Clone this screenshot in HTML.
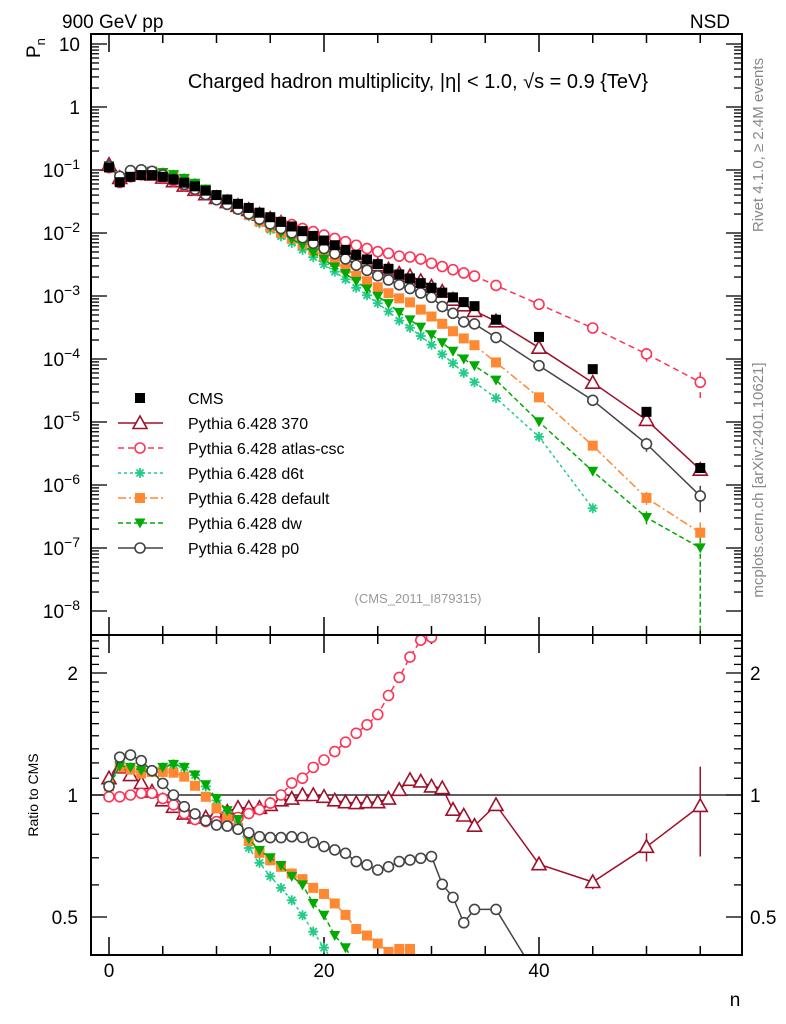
<!DOCTYPE html>
<html><head><meta charset="utf-8"><style>
html,body{margin:0;padding:0;background:#fff;width:786px;height:1024px;overflow:hidden}
svg{display:block;font-family:"Liberation Sans",Arial,sans-serif}
</style></head><body>
<svg id="chart" width="786" height="1024" viewBox="0 0 786 1024">
<defs>
<clipPath id="cm"><rect x="91" y="34" width="651" height="601"/></clipPath>
<clipPath id="cr"><rect x="91" y="635" width="651" height="320"/></clipPath>
</defs>
<text x="62" y="28" font-size="19">900 GeV pp</text>
<text x="730" y="28" font-size="19" text-anchor="end">NSD</text>
<text x="418" y="88" font-size="20" text-anchor="middle">Charged hadron multiplicity, |η| &lt; 1.0, √s = 0.9 {TeV}</text>
<text transform="translate(40,58) rotate(-90)" font-size="19">P<tspan font-size="13" dy="5">n</tspan></text>
<text transform="translate(38,795) rotate(-90)" font-size="14" text-anchor="middle">Ratio to CMS</text>
<text x="735" y="1006" font-size="19" text-anchor="middle">n</text>
<text transform="translate(763,145) rotate(-90)" font-size="15" fill="#888" text-anchor="middle">Rivet 4.1.0, ≥ 2.4M events</text>
<text transform="translate(763,480) rotate(-90)" font-size="15" fill="#888" text-anchor="middle">mcplots.cern.ch [arXiv:2401.10621]</text>
<text x="418" y="603" font-size="13" fill="#999" text-anchor="middle">(CMS_2011_I879315)</text>
<g id="axes"></g>
<g id="mainMarks" clip-path="url(#cm)"></g>
<g id="ratioMarks" clip-path="url(#cr)"></g>
<g id="legend"></g>
<rect x="91" y="34" width="651" height="601" fill="none" stroke="#000" stroke-width="2"/>
<rect x="91" y="635" width="651" height="320" fill="none" stroke="#000" stroke-width="2"/>
</svg>
<script>
const ns=[0,1,2,3,4,5,6,7,8,9,10,11,12,13,14,15,16,17,18,19,20,21,22,23,24,25,26,27,28,29,30,31,32,33,34,36,40,45,50,55];
const cms=[0.11,0.064,0.078,0.083,0.083,0.078,0.071,0.063,0.055,0.047,0.040,0.034,0.029,0.025,0.021,0.0178,0.015,0.0127,0.0107,0.0090,0.0076,0.0064,0.0054,0.0045,0.0038,0.0032,0.0027,0.0022,0.0019,0.0016,0.00135,0.00113,0.00095,0.0008,0.00069,0.00042,0.000224,0.000069,0.0000145,0.00000186];
const r370=[1.10,1.17,1.12,1.07,1.02,0.97,0.935,0.90,0.88,0.88,0.90,0.91,0.93,0.93,0.93,0.945,0.97,0.98,1.0,1.0,0.99,0.97,0.96,0.955,0.96,0.96,0.98,1.03,1.09,1.08,1.05,1.04,0.92,0.89,0.84,0.945,0.675,0.61,0.745,0.94];
const rAtlas=[0.99,0.99,1.0,1.01,1.01,0.98,0.945,0.90,0.87,0.86,0.86,0.87,0.88,0.90,0.92,0.955,1.0,1.07,1.1,1.17,1.22,1.28,1.35,1.42,1.49,1.58,1.76,1.95,2.19,2.41,2.45,2.6,2.75,2.9,3.0,3.5,3.3,4.5,8.3,23];
const rD6t=[1.05,1.18,1.17,1.16,1.15,1.17,1.19,1.17,1.12,1.05,0.97,0.91,0.84,0.74,0.68,0.63,0.59,0.55,0.505,0.46,0.42,0.38,0.34,0.30,0.27,0.24,0.21,0.185,0.165,0.145,0.125,0.105,0.09,0.075,0.062,0.057,0.026,0.0062,null,null];
const rDefault=[1.05,1.17,1.155,1.13,1.14,1.14,1.135,1.11,1.054,0.99,0.927,0.876,0.83,0.77,0.72,0.69,0.665,0.64,0.62,0.59,0.57,0.54,0.506,0.467,0.45,0.43,0.41,0.417,0.417,0.38,0.35,0.32,0.29,0.265,0.24,0.21,0.11,0.061,0.043,0.094];
const rDw=[1.05,1.18,1.17,1.15,1.14,1.17,1.19,1.17,1.12,1.06,0.98,0.915,0.87,0.78,0.73,0.70,0.67,0.63,0.60,0.54,0.505,0.45,0.42,0.38,0.34,0.31,0.28,0.25,0.22,0.20,0.18,0.16,0.14,0.125,0.113,0.11,0.045,0.024,0.021,0.054];
const rP0=[1.05,1.24,1.255,1.215,1.148,1.068,1.0,0.936,0.898,0.864,0.843,0.838,0.823,0.807,0.789,0.785,0.785,0.789,0.786,0.764,0.746,0.732,0.718,0.685,0.672,0.653,0.665,0.685,0.691,0.698,0.705,0.602,0.559,0.484,0.522,0.522,0.35,0.32,0.31,0.36];
const errTailN=[45,50,55];
const err370=[0.04,0.08,0.25];
const errModel=[0.3,0.5,0.9];
const xTicks=[0,20,40];
const mainDecades=[1,0,-1,-2,-3,-4,-5,-6,-7,-8];
const ratioTicks=[0.5,1,2];

const NS='http://www.w3.org/2000/svg';
const X=n=>109+n*10.75;
const Ym=v=>170-63*(Math.log10(v)+1);
const Yr=r=>795-122*Math.log2(r);
function mk(tag,at,parent){const e=document.createElementNS(NS,tag);for(const k in at)e.setAttribute(k,at[k]);parent.appendChild(e);return e;}
const axes=document.getElementById('axes');
const gm=document.getElementById('mainMarks');
const gr=document.getElementById('ratioMarks');
const gl=document.getElementById('legend');

for(let n=0;n<=55;n+=5){
  const maj=xTicks.includes(n);const L=maj?18:9;
  for(const [yb,dir] of [[635,-1],[34,1],[955,-1],[635,1]]){
    const t=mk('line',{x1:X(n),x2:X(n),y1:yb,y2:yb+dir*L,stroke:'#000','stroke-width':1.5},axes);
    
    
  }
}
xTicks.forEach(n=>{const t=mk('text',{x:X(n),y:977,'font-size':19,'text-anchor':'middle'},axes);t.textContent=n;
  
  });
mainDecades.forEach(d=>{
  for(let m=1;m<=9;m++){
    const y=Ym(m*Math.pow(10,d));if(y<34||y>635)continue;
    const L=m===1?16:8;
    mk('line',{x1:91,x2:91+L,y1:y,y2:y,stroke:'#000','stroke-width':1.3},axes);
    const t=mk('line',{x1:742,x2:742-L,y1:y,y2:y,stroke:'#000','stroke-width':1.3},axes);
    
    
  }
  const y=Ym(Math.pow(10,d));
  const t=mk('text',{x:80,y:y+7,'font-size':19,'text-anchor':'end'},axes);
  if(d===1)t.textContent='10';else if(d===0)t.textContent='1';
  else{t.textContent='10';const s=mk('tspan',{'font-size':14,dy:-8},t);s.textContent='−'+(-d);}
  
  
});
for(let r=0.4;r<=2.5;r+=0.1){const y=Yr(r);if(y<636||y>954)continue;
  const maj=[0.5,1,2].some(v=>Math.abs(v-r)<1e-6);const L=maj?16:8;
  mk('line',{x1:91,x2:91+L,y1:y,y2:y,stroke:'#000','stroke-width':1.3},axes);
  mk('line',{x1:742,x2:742-L,y1:y,y2:y,stroke:'#000','stroke-width':1.3},axes);}
ratioTicks.forEach(r=>{for(const [x,a] of [[78,'end'],[750,'start']]){const t=mk('text',{x:x,y:Yr(r)+7,'font-size':19,'text-anchor':a},axes);t.textContent=r;
  
  }});
const one=mk('line',{x1:91,x2:742,y1:Yr(1),y2:Yr(1),stroke:'#000','stroke-width':1.3},axes);



function marker(type,x,y,c,g){
  if(type==='sq')return mk('rect',{x:x-5,y:y-5,width:10,height:10,fill:c},g);
  if(type==='tri')return mk('path',{d:`M${x},${y-7}L${x+7},${y+5.5}L${x-7},${y+5.5}Z`,fill:'#fff',stroke:c,'stroke-width':1.6},g);
  if(type==='circ')return mk('circle',{cx:x,cy:y,r:5,fill:'#fff',stroke:c,'stroke-width':1.6},g);
  if(type==='tdown')return mk('path',{d:`M${x-5.5},${y-4.5}L${x+5.5},${y-4.5}L${x},${y+5.5}Z`,fill:c},g);
  if(type==='star'){let d='';for(let i=0;i<4;i++){const a=i*Math.PI/4;d+=`M${x-5*Math.cos(a)},${y-5*Math.sin(a)}L${x+5*Math.cos(a)},${y+5*Math.sin(a)}`;}
    return mk('path',{d:d,stroke:c,'stroke-width':1.8},g);}
}
const series=[
 {name:'pythia-370',label:'Pythia 6.428 370',r:r370,c:'#a0102a',m:'tri',dash:''},
 {name:'pythia-atlas-csc',label:'Pythia 6.428 atlas-csc',r:rAtlas,c:'#ff3355',m:'circ',dash:'6,4'},
 {name:'pythia-d6t',label:'Pythia 6.428 d6t',r:rD6t,c:'#22cc88',m:'star',dash:'3,3'},
 {name:'pythia-default',label:'Pythia 6.428 default',r:rDefault,c:'#ff8833',m:'sq',dash:'8,3,2,3'},
 {name:'pythia-dw',label:'Pythia 6.428 dw',r:rDw,c:'#00aa00',m:'tdown',dash:'5,3'},
 {name:'pythia-p0',label:'Pythia 6.428 p0',r:rP0,c:'#444444',m:'circ',dash:''}
];
series.forEach(s=>{
  const ptsM=[],ptsR=[];
  ns.forEach((n,i)=>{if(s.r[i]==null)return;ptsM.push([X(n),Ym(cms[i]*s.r[i])]);ptsR.push([X(n),Yr(s.r[i])]);});
  for(const [pts,g] of [[ptsM,gm],[ptsR,gr]]){
    const p=mk('polyline',{points:pts.map(p=>p.join(',')).join(' '),fill:'none',stroke:s.c,'stroke-width':1.5,'stroke-dasharray':s.dash},g);
    
    
  }
  errTailN.forEach((n,k)=>{const i=ns.indexOf(n);if(s.r[i]==null)return;const v=cms[i]*s.r[i];
    const e=(s.name==='pythia-370'?err370[k]*0.3:errModel[k]*0.5);
    const lo=Math.max(v*(1-e),1e-12);
    const eb=mk('line',{x1:X(n),x2:X(n),y1:Ym(v*(1+e)),y2:(s.name==='pythia-dw'&&n===55)?640:Ym(lo),stroke:s.c,'stroke-width':1.5,'stroke-dasharray':s.dash},gm);
    
    
    if(s.name==='pythia-370'){const r=s.r[i];const e2=mk('line',{x1:X(n),x2:X(n),y1:Yr(r*(1+err370[k])),y2:Yr(r*(1-err370[k])),stroke:s.c,'stroke-width':1.5},gr);
      
      }
  });
  ptsM.forEach(p=>{const m=marker(s.m,p[0],p[1],s.c,gm);
    
    });
  ptsR.forEach(p=>{const m=marker(s.m,p[0],p[1],s.c,gr);
    
    });
});
ns.forEach((n,i)=>{const m=marker('sq',X(n),Ym(cms[i]),'#000',gm);
  
  });
const legY=[398,423,448,473,498,523,548];
const cmsEntry=marker('sq',140,legY[0],'#000',gl);


const t0=mk('text',{x:188,y:legY[0]+6,'font-size':16},gl);t0.textContent='CMS';


series.forEach((s,k)=>{const y=legY[k+1];
  mk('line',{x1:118,x2:163,y1:y,y2:y,stroke:s.c,'stroke-width':1.5,'stroke-dasharray':s.dash},gl);
  marker(s.m,140,y,s.c,gl);
  const t=mk('text',{x:188,y:y+6,'font-size':16},gl);t.textContent=s.label;
  
  
});
</script>
</body></html>
